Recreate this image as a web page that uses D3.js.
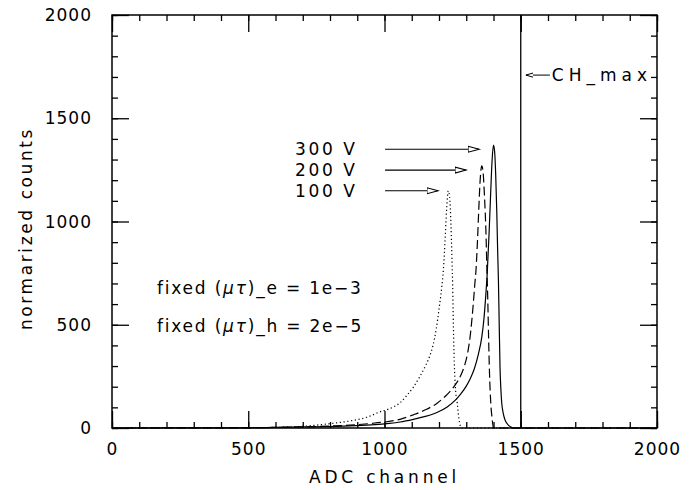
<!DOCTYPE html>
<html>
<head>
<meta charset="utf-8">
<script src="https://cdn.jsdelivr.net/npm/d3@7"></script>
<style>
  body { margin: 0; background: #fff; }
  text { font-family: "DejaVu Sans", sans-serif; font-size: 17px; fill: #000; }
</style>
</head>
<body>
<svg id="chart" width="700" height="490"></svg>
<script>
// values: [ADC channel, normalized counts]
var v300 = [[0,0],[500,1],[600,3],[700,5],[800,7],[873,10],[950,15],[1000,20],[1057,29],[1106,42],[1150,56],
    [1200,80],[1230,102],[1260,135],[1280,165],[1300,203],[1315,240],[1330,288],[1345,360],[1357,440],[1365,530],
    [1371,630],[1377,750],[1384,950],[1390,1150],[1395,1300],[1400,1370],[1404,1340],[1408,1230],[1412,1050],
    [1415,870],[1418,720],[1421,500],[1424,290],[1427,190],[1430,125],[1436,70],[1442,40],[1452,18],[1462,6],
    [1472,0],[2000,0]];
var v200 = [[0,0],[500,1],[600,3],[700,5],[812,10],[873,14],[950,22],[1000,29],[1057,42],[1106,64],[1150,88],
    [1193,120],[1228,160],[1259,208],[1280,255],[1295,308],[1306,370],[1314,440],[1320,515],[1326,605],[1331,690],
    [1336,770],[1341,900],[1346,1060],[1351,1200],[1357,1269],[1362,1235],[1367,1120],[1372,960],[1376,760],
    [1379,620],[1382,440],[1385,280],[1390,120],[1395,45],[1400,0],[2000,0]];
var v100 = [[0,0],[500,1],[600,3],[690,7],[751,14],[812,23],[873,34],[935,52],[983,78],[1030,100],[1057,122],
    [1080,155],[1106,198],[1130,250],[1150,300],[1165,345],[1178,400],[1190,480],[1200,575],[1210,680],[1216,765],
    [1222,900],[1228,1060],[1234,1148],[1239,1120],[1244,980],[1248,800],[1250,700],[1253,480],[1256,320],
    [1260,200],[1267,120],[1273,45],[1283,0],[2000,0]];
var series = [
    { name: '300 V', values: v300, dash: null },
    { name: '200 V', values: v200, dash: '9,4' },
    { name: '100 V', values: v100, dash: '1.2,2.6' }
];
var xTicks = [0, 500, 1000, 1500, 2000];
var yTicks = [0, 500, 1000, 1500, 2000];
var chMax = 1500;
// label position and arrow tip for each voltage
var arrowLabels = [
    { text: '300 V', x: 672, y: 1320, x0: 1002, tipX: 1347, tipY: 1350 },
    { text: '200 V', x: 672, y: 1218, x0: 1002, tipX: 1299, tipY: 1249 },
    { text: '100 V', x: 672, y: 1120, x0: 1002, tipX: 1196, tipY: 1149 }
];

var margin = { top: 15, right: 43, bottom: 62, left: 112 };
var width = 700 - margin.left - margin.right;
var height = 490 - margin.top - margin.bottom;

var svg = d3.select('#chart');
var g = svg.append('g').attr('transform', 'translate(' + margin.left + ',' + margin.top + ')');

var x = d3.scaleLinear().domain([0, 2000]).range([0, width]);
var y = d3.scaleLinear().domain([0, 2000]).range([height, 0]);

var defs = svg.append('defs');
defs.append('marker').attr('id', 'head').attr('markerUnits', 'userSpaceOnUse')
    .attr('markerWidth', 14).attr('markerHeight', 10).attr('refX', 11).attr('refY', 4)
    .attr('orient', 'auto').attr('viewBox', '0 0 14 10')
    .append('path').attr('d', 'M0,1 L11,4 L0,7 Z')
    .attr('fill', '#fff').attr('stroke', '#000').attr('stroke-width', 1.1);
defs.append('marker').attr('id', 'headSmall').attr('markerUnits', 'userSpaceOnUse')
    .attr('markerWidth', 10).attr('markerHeight', 8).attr('refX', 7.5).attr('refY', 3)
    .attr('orient', 'auto').attr('viewBox', '0 0 10 8')
    .append('path').attr('d', 'M0,0.8 L7.5,3 L0,5.2 Z')
    .attr('fill', '#fff').attr('stroke', '#000').attr('stroke-width', 1);

// curves
var line = d3.line()
    .x(function (d) { return x(d[0]); })
    .y(function (d) { return y(d[1]); })
    .curve(d3.curveMonotoneX);
g.selectAll('.curve').data(series).enter().append('path')
    .attr('class', 'curve')
    .attr('d', function (d) { return line(d.values); })
    .attr('fill', 'none').attr('stroke', '#000').attr('stroke-width', 1.2)
    .attr('stroke-dasharray', function (d) { return d.dash; });

// CH_max line
g.append('line').attr('x1', x(chMax)).attr('x2', x(chMax)).attr('y1', y(0)).attr('y2', y(2000))
    .attr('stroke', '#000').attr('stroke-width', 1.3);

// axes: ticks inward on all four sides, no labels from the axis itself
var minor = d3.range(0, 2001, 100);
function drawTicks(axis, transform) {
    g.append('g').attr('transform', transform).call(axis.tickFormat(''))
        .call(function (s) {
            s.select('.domain').remove();
            s.selectAll('line').attr('stroke', '#000').attr('stroke-width', 1.3);
            s.selectAll('text').remove();
        });
}
drawTicks(d3.axisBottom(x).tickValues(minor).tickSize(-6), 'translate(0,' + height + ')');
drawTicks(d3.axisBottom(x).tickValues(xTicks).tickSize(-17), 'translate(0,' + height + ')');
drawTicks(d3.axisTop(x).tickValues(minor).tickSize(-6), 'translate(0,0)');
drawTicks(d3.axisTop(x).tickValues(xTicks).tickSize(-17), 'translate(0,0)');
drawTicks(d3.axisLeft(y).tickValues(minor).tickSize(-6), 'translate(0,0)');
drawTicks(d3.axisLeft(y).tickValues(yTicks).tickSize(-17), 'translate(0,0)');
drawTicks(d3.axisRight(y).tickValues(minor).tickSize(-6), 'translate(' + width + ',0)');
drawTicks(d3.axisRight(y).tickValues(yTicks).tickSize(-17), 'translate(' + width + ',0)');

// tick labels
g.selectAll('.xlab').data(xTicks).enter().append('text').attr('class', 'xlab')
    .attr('x', function (d) { return x(d) + 0.5; }).attr('y', height + 27)
    .attr('text-anchor', 'middle').style('letter-spacing', '1px').text(function (d) { return d; });
g.selectAll('.ylab').data(yTicks).enter().append('text').attr('class', 'ylab')
    .attr('x', -20).attr('y', function (d) { return y(d) + 6; })
    .attr('text-anchor', 'end').style('letter-spacing', '1px').text(function (d) { return d; });

g.append('rect').attr('width', width).attr('height', height)
    .attr('fill', 'none').attr('stroke', '#000').attr('stroke-width', 1.5);

// axis titles
g.append('text').attr('x', width / 2).attr('y', height + 55).attr('text-anchor', 'middle')
    .style('letter-spacing', '3.8px').text('ADC channel');
g.append('text').attr('transform', 'translate(' + (-80) + ',' + (height / 2 + 7) + ') rotate(-90)')
    .attr('text-anchor', 'middle').style('letter-spacing', '2.6px').text('normarized counts');

// voltage labels and arrows
arrowLabels.forEach(function (a) {
    g.append('text').attr('x', x(a.x)).attr('y', y(a.y)).style('letter-spacing', '2.6px').text(a.text);
    g.append('line').attr('x1', x(a.x0)).attr('y1', y(a.tipY)).attr('x2', x(a.tipX)).attr('y2', y(a.tipY))
        .attr('stroke', '#000').attr('stroke-width', 1.1).attr('marker-end', 'url(#head)');
});

// CH_max arrow and label
g.append('line').attr('x1', x(1607)).attr('y1', y(1709)).attr('x2', x(1519)).attr('y2', y(1709))
    .attr('stroke', '#000').attr('stroke-width', 1).attr('marker-end', 'url(#headSmall)');
g.append('text').attr('x', x(1614)).attr('y', y(1709) + 6).style('letter-spacing', '5px').text('CH_max');

// fixed mu-tau notes
var notes = [
    { y: 649, pre: 'fixed (', post: ')_e = 1e\u22123' },
    { y: 465, pre: 'fixed (', post: ')_h = 2e\u22125' }
];
notes.forEach(function (n) {
    var t = g.append('text').attr('x', x(165)).attr('y', y(n.y)).style('letter-spacing', '1.8px');
    t.append('tspan').text(n.pre);
    t.append('tspan').style('font-style', 'italic').text('\u03bc\u03c4');
    t.append('tspan').text(n.post);
});
</script>
</body>
</html>
